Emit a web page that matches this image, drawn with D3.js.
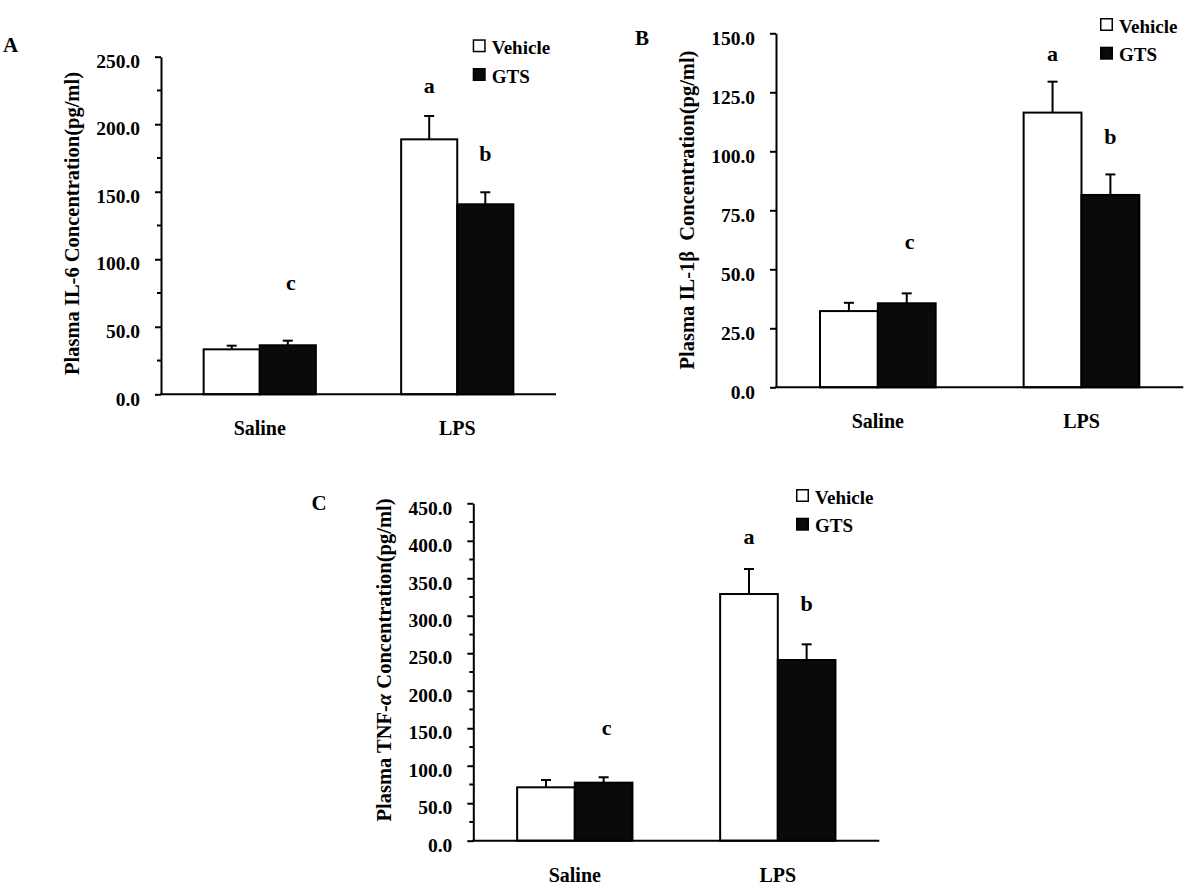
<!DOCTYPE html>
<html>
<head>
<meta charset="utf-8">
<script src="https://cdn.jsdelivr.net/npm/d3@7"></script>
<style>
  html, body { margin: 0; padding: 0; background: #fff; }
  text { font-family: "Liberation Serif", "Times New Roman", serif; font-weight: bold; fill: #000; }
</style>
</head>
<body>
<svg id="chart" width="1200" height="896"></svg>
<script>
// ---------- DATA ----------
const groups = ["Saline", "LPS"];
const series = ["Vehicle", "GTS"];
const sigLetters = ["c", "a", "b"];
const sigBars = [["Saline", "GTS"], ["LPS", "Vehicle"], ["LPS", "GTS"]];

// Panel A: IL-6
const il6Vehicle = [33.3, 188.8];
const il6VehicleErr = [2.7, 17.3];
const il6GTS = [36.3, 140.7];
const il6GTSErr = [3.4, 8.9];
const il6Ticks = [0, 50, 100, 150, 200, 250];
const il6Minor = [25, 75, 125, 175, 225];
const il6LetterY = [77.5, 223.4, 172.8];

// Panel B: IL-1β
const il1bVehicle = [32.3, 116.4];
const il1bVehicleErr = [3.5, 13.1];
const il1bGTS = [35.6, 81.5];
const il1bGTSErr = [4.2, 8.7];
const il1bTicks = [0, 25, 50, 75, 100, 125, 150];
const il1bMinor = [];
const il1bLetterY = [58.8, 138.4, 102.9];

// Panel C: TNF-α
const tnfVehicle = [71.2, 329.0];
const tnfVehicleErr = [9.8, 33.4];
const tnfGTS = [77.4, 241.0];
const tnfGTSErr = [7.2, 20.9];
const tnfTicks = [0, 50, 100, 150, 200, 250, 300, 350, 400, 450];
const tnfMinor = [25, 75, 125, 175, 225, 275, 325, 375, 425];
const tnfLetterY = [141.5, 395.7, 307];

// ---------- LAYOUT ----------
const panels = [
  { letter: "A", x0: 161, x1: 556, y0: 56.7, y1: 394.3, max: 250,
    vehicle: il6Vehicle, vehicleErr: il6VehicleErr, gts: il6GTS, gtsErr: il6GTSErr,
    ticks: il6Ticks, minor: il6Minor, letterY: il6LetterY,
    title: [{t: "Plasma IL-6 Concentration(pg/ml)"}], titleCy: 223.5,
    letterPos: [3, 52], legendDy: -17.4 },
  { letter: "B", x0: 776, x1: 1183.3, y0: 33.3, y1: 387.3, max: 150,
    vehicle: il1bVehicle, vehicleErr: il1bVehicleErr, gts: il1bGTS, gtsErr: il1bGTSErr,
    ticks: il1bTicks, minor: il1bMinor, letterY: il1bLetterY,
    title: [{t: "Plasma IL-1\u03B2  Concentration(pg/ml)"}], titleCy: 210,
    letterPos: [635, 45], legendDy: -15.3 },
  { letter: "C", x0: 473.3, x1: 879.3, y0: 503.3, y1: 840.7, max: 450,
    vehicle: tnfVehicle, vehicleErr: tnfVehicleErr, gts: tnfGTS, gtsErr: tnfGTSErr,
    ticks: tnfTicks, minor: tnfMinor, letterY: tnfLetterY,
    title: [{t: "Plasma TNF-"}, {t: "\u03B1", italic: true}, {t: " Concentration(pg/ml)"}], titleCy: 660,
    letterPos: [311.5, 510], legendDy: -14.3 }
];

const svg = d3.select("#chart");

panels.forEach(p => {
  const W = p.x1 - p.x0;
  const g = svg.append("g").attr("transform", `translate(${p.x0},0)`);

  const x = d3.scaleBand().domain(groups).range([0, W]).paddingInner(0.432).paddingOuter(0.216);
  const xs = d3.scaleBand().domain(series).range([0, x.bandwidth()]);
  const y = d3.scaleLinear().domain([0, p.max]).range([p.y1, p.y0]);

  const rows = [];
  groups.forEach((grp, i) => {
    rows.push({ group: grp, s: "Vehicle", v: p.vehicle[i], e: p.vehicleErr[i] });
    rows.push({ group: grp, s: "GTS", v: p.gts[i], e: p.gtsErr[i] });
  });

  // error bars
  const eb = g.append("g").attr("stroke", "#000").attr("stroke-width", 2);
  rows.forEach(d => {
    const cx = x(d.group) + xs(d.s) + xs.bandwidth() / 2;
    eb.append("line").attr("x1", cx).attr("x2", cx).attr("y1", y(d.v)).attr("y2", y(d.v + d.e));
    eb.append("line").attr("x1", cx - 5).attr("x2", cx + 5).attr("y1", y(d.v + d.e)).attr("y2", y(d.v + d.e));
  });

  // bars
  g.append("g").selectAll("rect").data(rows).join("rect")
    .attr("x", d => x(d.group) + xs(d.s))
    .attr("y", d => y(d.v))
    .attr("width", xs.bandwidth())
    .attr("height", d => y(0) - y(d.v))
    .attr("fill", d => d.s === "Vehicle" ? "#fff" : "#0a0a0a")
    .attr("stroke", "#000")
    .attr("stroke-width", 2);

  // y axis
  const ax = g.append("g").call(d3.axisLeft(y).tickValues(p.ticks).tickSize(6).tickSizeOuter(0).tickFormat(d3.format(".1f")));
  ax.select(".domain").attr("stroke-width", 2);
  ax.selectAll(".tick line").attr("stroke-width", 2);
  ax.selectAll(".tick text").attr("x", -21).attr("dy", "0.55em")
    .style("font-size", "19.5px").style("font-family", "'Liberation Serif', 'Times New Roman', serif").style("font-weight", "bold");
  // minor ticks
  g.append("g").selectAll("line").data(p.minor).join("line")
    .attr("x1", -4).attr("x2", 0).attr("y1", d => y(d)).attr("y2", d => y(d))
    .attr("stroke", "#000").attr("stroke-width", 2);

  // x axis baseline
  g.append("line").attr("x1", -1).attr("x2", W).attr("y1", y(0)).attr("y2", y(0))
    .attr("stroke", "#000").attr("stroke-width", 2);

  // category labels
  g.append("g").selectAll("text").data(groups).join("text")
    .attr("x", d => x(d) + x.bandwidth() / 2)
    .attr("y", y(0) + 41)
    .attr("text-anchor", "middle")
    .style("font-size", "20px")
    .text(d => d);

  // significance letters
  sigLetters.forEach((L, i) => {
    const [grp, s] = sigBars[i];
    g.append("text")
      .attr("x", x(grp) + xs(s) + xs.bandwidth() / 2 + (L === "c" ? 3 : 0))
      .attr("y", y(p.letterY[i]))
      .attr("text-anchor", "middle")
      .style("font-size", "22px")
      .text(L);
  });

  // legend
  const lg = g.append("g").attr("transform", `translate(${W - 83.3},${p.y0 + p.legendDy})`);
  series.forEach((s, i) => {
    const row = lg.append("g").attr("transform", `translate(0,${i * 28.7})`);
    row.append("rect").attr("x", 0.75).attr("y", 0.75).attr("width", 11.5).attr("height", 11.5)
      .attr("fill", s === "Vehicle" ? "#fff" : "#0a0a0a").attr("stroke", "#000").attr("stroke-width", 1.5);
    row.append("text").attr("x", 19).attr("y", 14.5).style("font-size", "19px").text(s);
  });

  // y axis title
  const t = g.append("text")
    .attr("transform", `translate(-82,${p.titleCy}) rotate(-90)`)
    .attr("text-anchor", "middle")
    .style("font-size", "20.5px")
    .style("white-space", "pre");
  p.title.forEach(part => {
    const ts = t.append("tspan").text(part.t);
    if (part.italic) ts.style("font-style", "italic");
  });

  // panel letter
  svg.append("text").attr("x", p.letterPos[0]).attr("y", p.letterPos[1])
    .style("font-size", "21px").text(p.letter);
});
</script>
</body>
</html>
